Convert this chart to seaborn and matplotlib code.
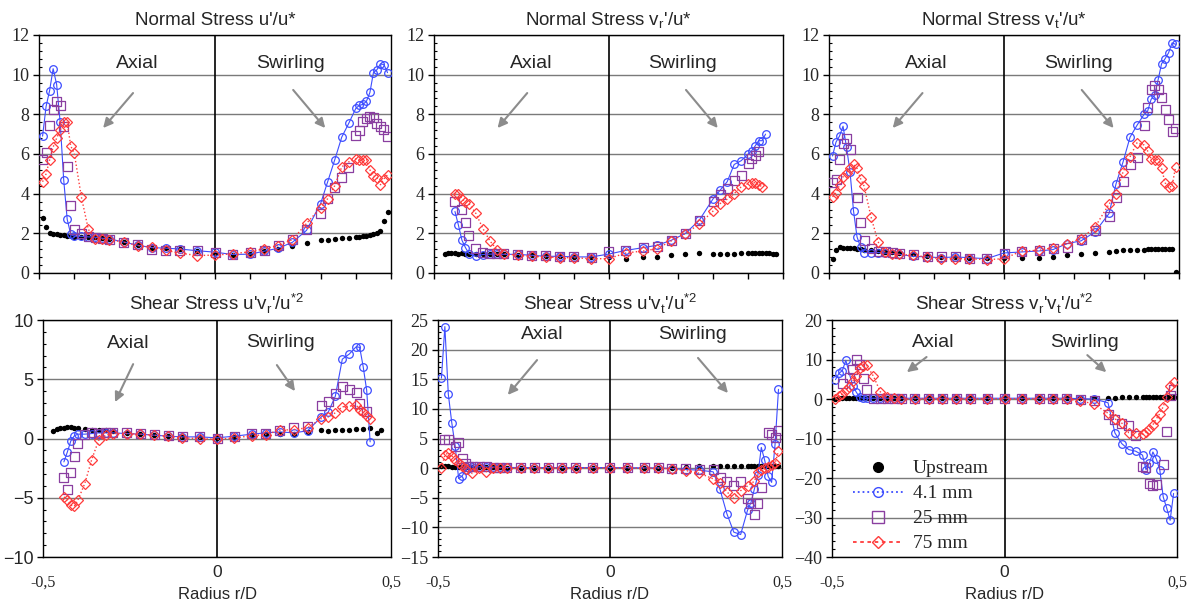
import numpy as np
import pandas as pd
import matplotlib
matplotlib.use('Agg')
import matplotlib.pyplot as plt
import matplotlib.transforms as mtransforms
from matplotlib.lines import Line2D
from matplotlib.ticker import MultipleLocator, AutoMinorLocator
import seaborn as sns

nan = np.nan

# radial positions r/D (wall region, core, wall region)
r_d = ([-0.49, -0.48, -0.47, -0.46, -0.45, -0.44, -0.43, -0.42, -0.41, -0.40, -0.38, -0.36, -0.34, -0.32, -0.30]
       + [-0.26, -0.22, -0.18, -0.14, -0.10, -0.05, 0.0, 0.05, 0.10, 0.14, 0.18, 0.22, 0.26]
       + [0.30, 0.32, 0.34, 0.36, 0.38, 0.40, 0.41, 0.42, 0.43, 0.44, 0.45, 0.46, 0.47, 0.48, 0.49])

# Normal stress u'/u*
u_up = ([2.75, 2.3, 2.0, 1.97, 1.95, 1.93, 1.9, 1.88, 1.85, 1.82, 1.82, 1.82, 1.8, 1.75, 1.72]
        + [1.56, 1.4, 1.28, 1.25, 1.2, 1.12, 1.02, 0.93, 0.97, 1.1, 1.22, 1.34, 1.5]
        + [1.64, 1.68, 1.72, 1.75, 1.76, 1.8, 1.83, 1.87, 1.88, 1.92, 1.97, 2.04, 2.14, 2.6, 3.05])
u_41 = ([6.9, 8.4, 9.2, 10.3, 9.5, 7.6, 4.7, 2.7, 1.95, 1.85, 1.85, 1.82, 1.8, 1.75, 1.72]
        + [1.56, 1.4, 1.28, 1.25, 1.21, 1.12, 1.05, 0.93, 0.95, 1.1, 1.25, 1.55, 2.15]
        + [3.5, 4.6, 5.7, 6.85, 7.55, 8.3, 8.45, 8.5, 8.65, 9.1, 10.1, 10.25, 10.55, 10.5, 10.1])
u_25 = ([5.7, 6.05, 7.45, 8.25, 8.65, 8.45, 7.4, 5.35, 3.4, 2.2, 2.0, 1.85, 1.78, 1.72, 1.68]
        + [1.54, 1.42, 1.18, 1.14, 1.14, 1.12, 1.04, 0.94, 1.04, 1.14, 1.39, 1.68, 2.2]
        + [3.0, 3.75, 4.3, 4.8, 5.3, 6.95, 7.2, 7.65, 7.8, 7.9, 7.85, 7.55, 7.4, 7.25, 6.9])
u_75 = ([4.6, 5.0, 5.7, 6.35, 6.8, 7.2, 7.6, 7.6, 6.4, 6.05, 3.85, 2.2, 1.72, 1.7, 1.68]
        + [1.56, 1.38, 1.3, 1.14, 1.0, 0.88, 0.9, 0.97, 1.07, 1.22, 1.38, 1.68, 2.5]
        + [3.3, 3.75, 4.4, 5.35, 5.6, 5.75, 5.72, 5.72, 5.72, 5.2, 4.9, 4.8, 4.45, 4.75, 4.95])

# Normal stress vr'/u*
vr_up = ([nan, nan, 0.98, 1.0, 1.0, 1.0, 0.98, 1.0, 0.98, 0.98, 0.98, 0.97, 0.96, 0.95, 0.94]
         + [0.92, 0.89, 0.86, 0.84, 0.82, 0.8, 0.8, 0.72, 0.81, 0.81, 0.89, 0.94, 1.01]
         + [0.98, 0.98, 0.98, 0.98, 1.0, 1.0, 1.0, 1.0, 1.0, 1.0, 1.0, 1.0, 0.98, 0.98, nan])
vr_41 = ([nan, nan, nan, nan, nan, 3.1, 2.4, 1.65, 1.28, 0.98, 0.84, 0.93, 0.95, 0.95, 0.94]
         + [0.94, 0.89, 0.84, 0.84, 0.81, 0.81, 0.95, 1.14, 1.28, 1.4, 1.65, 1.99, 2.66]
         + [3.75, 4.18, 4.6, 5.47, 5.66, 5.99, 6.16, 6.4, 6.67, 6.67, 7.0, nan, nan, nan, nan])
vr_25 = ([nan, nan, nan, nan, nan, 3.6, nan, 3.22, 2.53, 1.9, 1.23, 1.01, 0.98, 0.96, 0.98]
         + [0.94, 0.89, 0.89, 0.84, 0.84, 0.77, 1.06, 1.14, 1.28, 1.36, 1.65, 1.99, 2.66]
         + [3.62, 3.97, 4.26, 4.65, 4.93, 5.5, 5.75, 5.9, 6.11, nan, nan, nan, nan, nan, nan])
vr_75 = ([nan, nan, nan, nan, nan, 3.97, 4.0, 3.75, 3.59, 3.5, 3.0, 2.24, 1.62, 1.18, 0.98]
         + [0.89, 0.84, 0.81, 0.77, 0.77, 0.72, 0.72, 1.01, 1.11, 1.23, 1.62, 1.99, 2.46]
         + [3.13, 3.5, 3.72, 4.0, 4.34, 4.51, 4.55, 4.55, 4.46, 4.34, nan, nan, nan, nan, nan])

# Normal stress vt'/u*
vt_up = ([0.72, 1.18, 1.3, 1.28, 1.27, 1.25, 1.24, 1.2, 1.2, 1.18, 1.16, 1.12, 1.08, 1.05, 1.0]
         + [0.94, 0.88, 0.82, 0.8, 0.77, 0.74, 0.75, 0.77, 0.77, 0.81, 0.89, 0.98, 1.01]
         + [1.06, 1.11, 1.15, 1.18, 1.18, 1.18, 1.2, 1.2, 1.22, 1.22, 1.22, 1.2, 1.2, 1.2, 0.05])
vt_41 = ([5.9, 6.6, 6.9, 7.4, 6.35, 5.1, 3.13, 1.82, 1.31, 1.03, 1.03, 1.03, 1.0, 0.98, 0.94]
         + [0.84, 0.81, 0.77, 0.81, 0.77, 0.72, 1.01, 1.06, 1.11, 1.18, 1.48, 1.62, 2.07]
         + [3.0, 4.5, 5.6, 6.85, 7.45, 8.0, 8.15, 8.75, 8.97, 9.73, 10.55, 10.8, 11.1, 11.6, 11.53])
vt_25 = ([4.55, 4.7, 5.7, 6.55, 6.8, 6.25, nan, 3.8, 2.54, 1.62, 1.23, 1.09, 1.06, 1.03, 0.98]
         + [0.94, 0.84, 0.81, 0.81, 0.72, 0.72, 0.98, 1.06, 1.14, 1.23, 1.28, 1.68, 2.15]
         + [2.83, 3.8, 4.6, 5.47, 5.82, 7.46, 8.35, 9.26, 9.43, 9.26, 8.84, 8.22, 7.74, 7.12, 7.29])
vt_75 = ([3.84, 4.04, 4.43, 4.85, 5.05, 5.27, 5.49, 5.27, 4.76, 4.38, 2.83, 1.57, 1.06, 0.98, 0.94]
         + [0.89, 0.81, 0.72, 0.72, 0.72, 0.67, 0.72, 1.11, 1.14, 1.28, 1.48, 1.73, 2.32]
         + [3.47, 3.97, 5.1, 5.86, 6.57, 6.45, 6.16, 5.77, 5.72, 5.72, 5.27, 4.55, 4.31, 4.38, 5.35])

# Shear stress u'vr'/u*2
uvr_up = ([nan, nan, 0.6, 0.8, 0.85, 0.93, 0.95, 0.99, 0.9, 0.85, 0.78, 0.76, 0.72, 0.7, 0.6]
          + [0.45, 0.38, 0.3, 0.22, 0.16, 0.12, 0.05, 0.16, 0.3, 0.4, 0.37, 0.42, 0.56]
          + [0.7, 0.6, 0.76, 0.76, 0.76, 0.78, nan, 0.78, nan, 0.85, nan, 0.48, 0.7, nan, nan])
uvr_41 = ([nan, nan, nan, nan, nan, -1.97, -1.13, -0.2, 0.23, 0.37, 0.37, 0.42, 0.48, 0.48, 0.48]
          + [0.42, 0.37, 0.28, 0.2, 0.14, 0.14, 0.06, 0.2, 0.37, 0.48, 0.56, 0.48, 0.65]
          + [1.83, 2.25, 3.58, 6.7, 7.13, 7.75, 7.69, 6.06, 4.08, -0.28, nan, nan, nan, nan, nan])
uvr_25 = ([nan, nan, nan, nan, nan, -3.3, -4.31, -2.9, -1.49, -0.42, 0.37, 0.48, 0.46, 0.48, 0.48]
          + [0.48, 0.42, 0.37, 0.23, 0.2, 0.14, 0.0, 0.14, 0.42, 0.42, 0.7, 0.93, 1.04]
          + [2.76, 3.15, 3.8, 4.37, 4.17, 3.89, 2.96, nan, 2.31, nan, nan, nan, nan, nan, nan])
uvr_75 = ([nan, nan, nan, nan, nan, -4.93, -5.15, -5.63, -5.72, -5.21, -3.8, -1.77, -0.14, 0.28, 0.42]
          + [0.42, 0.37, 0.28, 0.2, 0.06, 0.0, -0.08, 0.06, 0.23, 0.34, 0.7, 0.76, 0.9]
          + [1.69, 1.83, 2.17, 2.68, 2.73, 2.82, 2.45, 2.25, 1.89, 1.61, nan, nan, nan, nan, nan])

# Shear stress u'vt'/u*2
uvt_up = ([0.3, 0.3, 0.3, 0.25, 0.25, 0.25, 0.2, 0.2, 0.2, 0.2, 0.2, 0.15, 0.15, 0.15, 0.1]
          + [0.1, 0.1, 0.1, 0.1, 0.1, 0.1, 0.1, 0.1, 0.1, 0.1, 0.1, 0.2, 0.3]
          + [0.3, 0.3, 0.3, 0.3, 0.3, 0.3, 0.3, 0.3, 0.3, 0.3, 0.3, 0.3, 0.3, 0.3, 0.3])
uvt_41 = ([15.2, 23.9, 12.5, 7.7, 3.7, -1.75, -1.35, -0.34, 0.1, 0.23, 0.23, 0.23, 0.2, 0.15, 0.12]
          + [0.1, 0.1, 0.1, 0.1, 0.1, 0.1, 0.1, 0.08, 0.05, 0.05, -0.06, -0.23, -0.34]
          + [-0.62, -3.6, -7.7, -10.8, -11.2, -7.1, -5.8, -3.5, -1.2, 3.5, 1.3, -1.4, -2.4, 4.0, 13.3])
uvt_25 = ([nan, 4.9, 4.9, nan, 3.6, 4.3, 1.63, 0.79, 0.3, 0.23, 0.2, 0.2, 0.15, 0.15, 0.12]
          + [0.12, 0.12, 0.1, 0.1, 0.1, 0.1, 0.1, 0.1, 0.08, 0.05, 0.0, -0.06, -0.15]
          + [-0.23, -1.6, -2.3, -2.9, -2.2, -5.1, -5.9, -7.9, -5.9, -3.2, nan, 6.0, 5.6, 5.1, 6.4])
uvt_75 = ([0.06, 2.2, 2.6, 2.08, 1.46, 0.79, 0.34, -0.06, nan, -0.9, 0.11, -0.62, 0.11, 0.06, 0.0]
          + [0.05, 0.05, 0.06, 0.06, 0.06, 0.06, 0.06, 0.05, 0.0, 0.0, -0.1, -0.4, -0.85]
          + [-1.8, -2.5, -4.0, -5.1, -3.8, -3.0, nan, -2.2, -0.7, -0.3, 0.0, 0.2, 0.5, 0.8, 2.9])

# Shear stress vr'vt'/u*2
vv_up = ([-0.1, 0.2, 0.3, 0.3, 0.3, 0.3, 0.3, 0.3, 0.3, 0.3, 0.3, 0.3, 0.25, 0.2, 0.2]
         + [0.2, 0.2, 0.2, 0.2, 0.2, 0.2, 0.2, 0.2, 0.2, 0.2, 0.2, 0.2, 0.2]
         + [0.3, 0.3, 0.4, 0.4, 0.4, 0.4, 0.4, 0.4, 0.4, 0.4, 0.4, 0.4, 0.4, 0.4, 0.4])
vv_41 = ([4.9, 6.5, 7.2, 9.8, nan, 3.3, 1.8, 0.4, 0.2, 0.2, 0.2, 0.2, 0.2, 0.2, 0.2]
         + [0.2, 0.2, 0.2, 0.2, 0.2, 0.2, 0.2, 0.2, 0.2, 0.2, 0.2, 0.1, 0.0]
         + [-0.95, -8.6, -11.3, -12.8, -13.2, -14.2, -17.9, -16.2, -13.4, -15.2, -17.9, -24.8, -27.6, -30.7, -23.9])
vv_25 = ([nan, nan, 3.9, nan, 5.4, 7.6, 9.9, 8.8, 5.2, 2.4, 0.14, 0.1, 0.1, 0.1, 0.1]
         + [0.1, 0.1, 0.1, 0.1, 0.1, 0.1, 0.1, 0.1, 0.1, 0.1, 0.1, 0.0, -0.3]
         + [-4.0, -5.2, -6.2, -6.8, -9.2, -17.0, -17.3, -21.5, -22.0, -21.7, nan, -16.7, -8.3, 1.0, 2.5])
vv_75 = ([-0.1, 0.73, 1.24, 2.26, 3.1, 4.6, 5.8, 7.75, 8.3, 8.6, 5.8, 1.83, 0.4, 0.14, 0.0]
         + [0.1, 0.1, 0.1, 0.1, 0.1, 0.1, 0.1, 0.1, 0.1, 0.1, 0.1, -0.4, -1.3]
         + [-3.6, -5.0, -6.1, -8.5, -8.5, -8.9, -8.3, -7.6, -6.5, -5.0, -3.7, -1.9, 0.5, 3.3, 4.2])

titles = [r"Normal Stress u'/u*",
          r"Normal Stress v$_\mathregular{r}$'/u*",
          r"Normal Stress v$_\mathregular{t}$'/u*",
          r"Shear Stress u'v$_\mathregular{r}$'/u$^\mathregular{*2}$",
          r"Shear Stress u'v$_\mathregular{t}$'/u$^\mathregular{*2}$",
          r"Shear Stress v$_\mathregular{r}$'v$_\mathregular{t}$'/u$^\mathregular{*2}$"]
legend_labels = ['Upstream', '4.1 mm', '25 mm', '75 mm']

BLUE = '#3d4dff'
PURPLE = '#8a3fa0'
RED = '#ff3b3b'
ARROW = '#8c8c8c'
SERIF = 'Liberation Serif'

sns.set_theme(style='white')
plt.rcParams['font.family'] = ['Liberation Sans', 'DejaVu Sans']
plt.rcParams['mathtext.fontset'] = 'custom'
plt.rcParams['mathtext.rm'] = 'Liberation Sans'


def draw_panel(ax, up, s41, s25, s75):
    df = pd.DataFrame({'r': r_d, 'up': up, 's41': s41, 's25': s25, 's75': s75})
    sns.scatterplot(data=df.dropna(subset=['up']), x='r', y='up', ax=ax, color='black',
                    s=15, linewidth=0, legend=False, zorder=3)
    sns.lineplot(data=df.dropna(subset=['s41']), x='r', y='s41', ax=ax, sort=False,
                 estimator=None, color=BLUE, linewidth=0.8, marker='o', markersize=5.5,
                 markerfacecolor='none', markeredgecolor=BLUE, markeredgewidth=0.9,
                 legend=False, zorder=4)
    sns.scatterplot(data=df.dropna(subset=['s25']), x='r', y='s25', ax=ax, marker='s',
                    s=42, color=PURPLE, facecolor='none', edgecolor=PURPLE, linewidth=0.9,
                    legend=False, zorder=5)
    sns.lineplot(data=df.dropna(subset=['s75']), x='r', y='s75', ax=ax, sort=False,
                 estimator=None, color=RED, linewidth=1.0, linestyle=':', marker='D',
                 markersize=4.8, markerfacecolor='none', markeredgecolor=RED,
                 markeredgewidth=0.9, legend=False, zorder=6)
    ax.set(xlabel='', ylabel='')


def style_panel(ax, title, ylim, ystep, bottom_row, ytick_family):
    ax.set_xlim(-0.5, 0.5)
    ax.set_ylim(*ylim)
    ax.yaxis.set_major_locator(MultipleLocator(ystep))
    ax.yaxis.set_minor_locator(AutoMinorLocator(5))
    ax.set_axisbelow(True)
    ax.yaxis.grid(True, color='#7a7a7a', linewidth=1.0)
    ax.xaxis.grid(False)
    ax.axvline(0, color='black', linewidth=1.2, zorder=2)
    for sp in ax.spines.values():
        sp.set_color('black')
        sp.set_linewidth(1.0)
    ax.tick_params(axis='y', which='major', direction='out', length=4, width=1,
                   color='black', labelsize=13, pad=3, labelfontfamily=ytick_family,
                   left=True)
    ax.tick_params(axis='y', which='minor', direction='in', length=2.5, width=0.8,
                   color='black', left=True)
    if bottom_row:
        ax.set_xticks([-0.5, 0.5], ['-0,5', '0,5'])
        ax.tick_params(axis='x', length=0, pad=13, labelsize=11.5,
                       labelfontfamily=SERIF)
        trans = mtransforms.blended_transform_factory(ax.transData, ax.transAxes)
        ax.text(0, -0.035, '0', transform=trans, ha='center', va='top', fontsize=12.5)
        ax.set_xlabel('Radius r/D', fontsize=12)
        ax.xaxis.set_label_coords(0.5, -0.125)
    else:
        ax.xaxis.set_major_locator(MultipleLocator(0.1))
        ax.tick_params(axis='x', direction='out', length=4, width=1, color='black',
                       labelbottom=False, bottom=True)
    ax.set_title(title, fontsize=13.5, pad=7)


def label_regions(ax, axial, axial_arrow, swirl, swirl_arrow):
    ax.text(*axial, 'Axial', transform=ax.transAxes, ha='center', va='center', fontsize=14)
    ax.text(*swirl, 'Swirling', transform=ax.transAxes, ha='center', va='center', fontsize=14)
    for (x0, y0, x1, y1) in (axial_arrow, swirl_arrow):
        ax.annotate('', xy=(x1, y1), xytext=(x0, y0), xycoords='axes fraction',
                    textcoords='axes fraction',
                    arrowprops=dict(arrowstyle='-|>', color=ARROW, lw=1.5,
                                    mutation_scale=14, shrinkA=0, shrinkB=0))


fig = plt.figure(figsize=(11.98, 6.05), dpi=100)
rects = [(0.0326, 0.5488, 0.2938, 0.3934),
         (0.3623, 0.5488, 0.2913, 0.3934),
         (0.6920, 0.5488, 0.2922, 0.3934),
         (0.0359, 0.0793, 0.2905, 0.3917),
         (0.3656, 0.0793, 0.2871, 0.3917),
         (0.6945, 0.0793, 0.2880, 0.3917)]
axes = [fig.add_axes(r) for r in rects]

series = [(u_up, u_41, u_25, u_75), (vr_up, vr_41, vr_25, vr_75),
          (vt_up, vt_41, vt_25, vt_75), (uvr_up, uvr_41, uvr_25, uvr_75),
          (uvt_up, uvt_41, uvt_25, uvt_75), (vv_up, vv_41, vv_25, vv_75)]
limits = [((0, 12), 2), ((0, 12), 2), ((0, 12), 2),
          ((-10, 10), 5), ((-15, 25), 5), ((-40, 20), 10)]
tick_fonts = [SERIF, SERIF, SERIF, 'Liberation Sans', SERIF, SERIF]

for i, ax in enumerate(axes):
    draw_panel(ax, *series[i])
    style_panel(ax, titles[i], limits[i][0], limits[i][1], i >= 3, tick_fonts[i])

top_pos = ((0.278, 0.882), (0.267, 0.756, 0.182, 0.609),
           (0.713, 0.882), (0.722, 0.769, 0.813, 0.609))
for ax in axes[:3]:
    label_regions(ax, *top_pos)
label_regions(axes[3], (0.244, 0.903), (0.259, 0.814, 0.207, 0.654),
              (0.681, 0.907), (0.672, 0.81, 0.724, 0.70))
label_regions(axes[4], (0.302, 0.937), (0.288, 0.831, 0.203, 0.684),
              (0.741, 0.937), (0.756, 0.84, 0.843, 0.692))
label_regions(axes[5], (0.292, 0.907), (0.274, 0.844, 0.217, 0.78),
              (0.731, 0.907), (0.74, 0.852, 0.795, 0.78))

handles = [Line2D([], [], linestyle='none', marker='o', markersize=7, color='black'),
           Line2D([], [], linestyle=':', linewidth=1.3, color=BLUE, marker='o', markersize=7,
                  markerfacecolor='none', markeredgecolor=BLUE),
           Line2D([], [], linestyle='none', marker='s', markersize=8,
                  markerfacecolor='none', markeredgecolor=PURPLE),
           Line2D([], [], linestyle=(0, (2, 2)), linewidth=1.3, color=RED, marker='D',
                  markersize=6, markerfacecolor='none', markeredgecolor=RED)]
axes[5].legend(handles, legend_labels, loc='upper left', bbox_to_anchor=(0.06, 0.41),
               frameon=False, prop={'family': SERIF, 'size': 14}, handlelength=2.6,
               labelspacing=0.38, borderpad=0, borderaxespad=0, handletextpad=0.5)

fig.savefig('out.png', dpi=100)
